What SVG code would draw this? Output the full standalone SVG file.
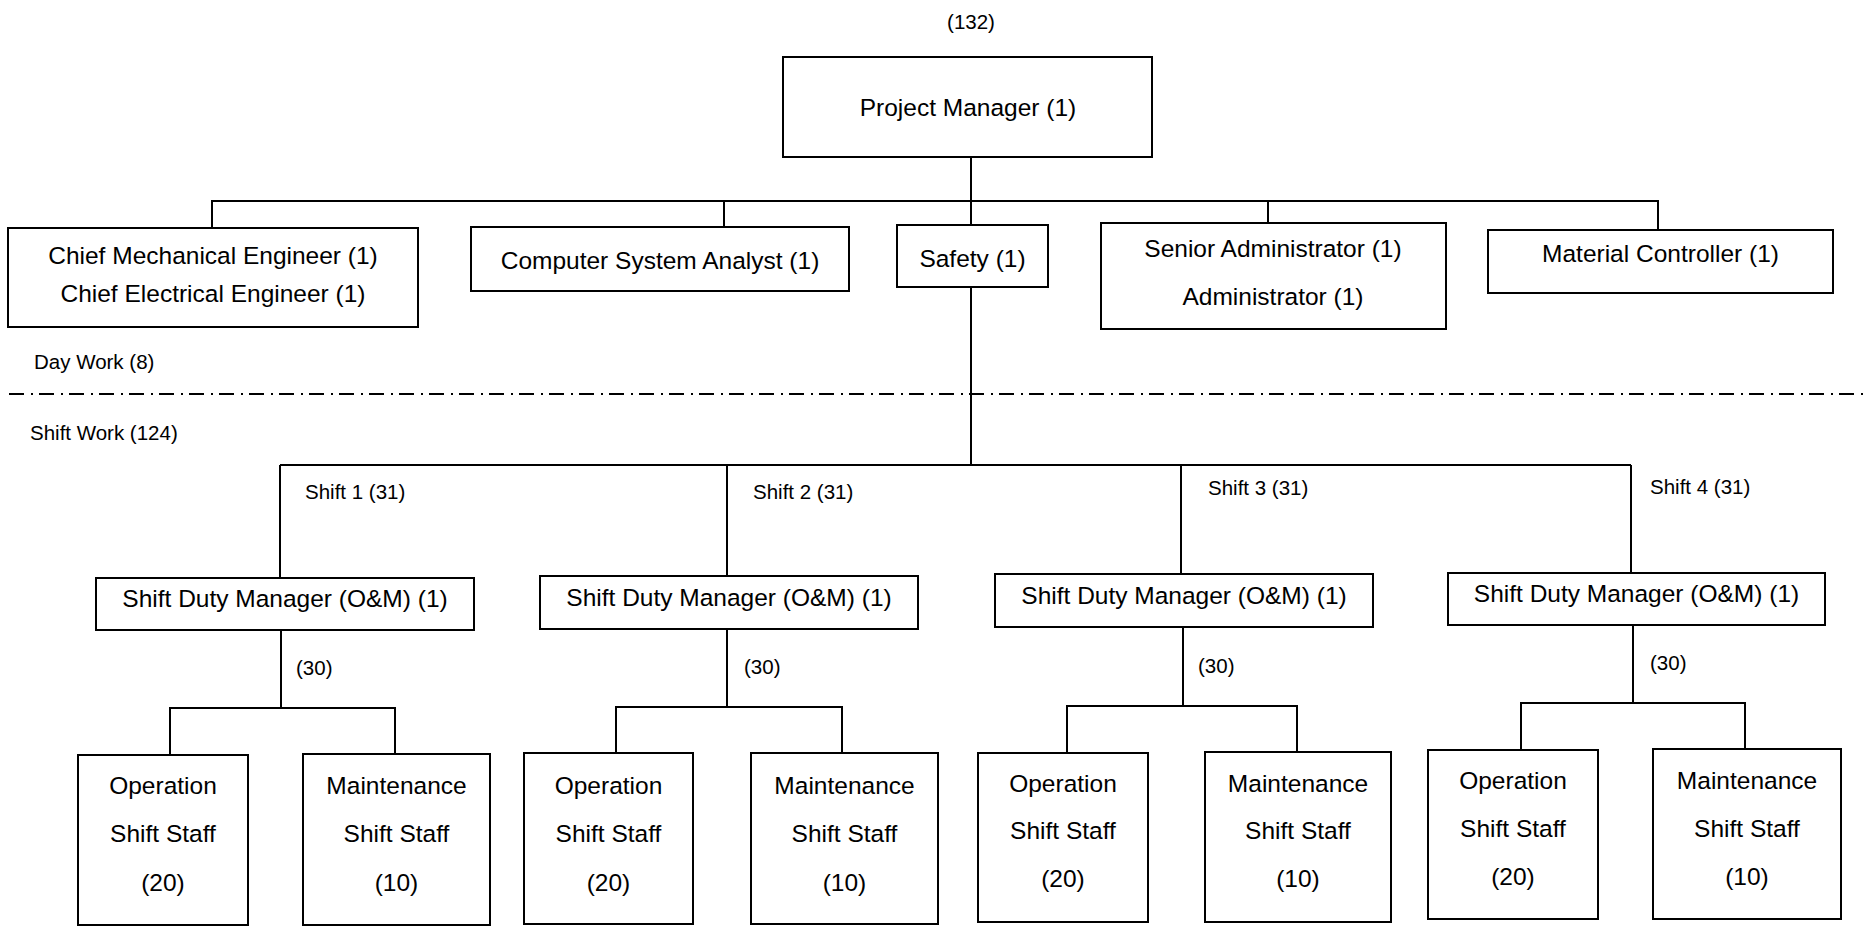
<svg xmlns="http://www.w3.org/2000/svg" width="1866" height="930" viewBox="0 0 1866 930">
<style>
.box{fill:#fff;stroke:#000;stroke-width:2}
.t{font-family:"Liberation Sans",Arial,sans-serif;font-size:24.5px;fill:#000;text-anchor:middle}
.s{font-family:"Liberation Sans",Arial,sans-serif;font-size:20.5px;fill:#000}
.c{fill:none;stroke:#000;stroke-width:2}
.dd{fill:none;stroke:#000;stroke-width:2;stroke-dasharray:15 7 2 6}
</style>
<rect width="1866" height="930" fill="#fff"/>
<g id="connectors">
<path class="c" d="M971 157V225M212 228V201H1658V230M724 201V227M1268 201V223"/>
<path class="c" d="M971 287V465M280 465H1631M280 465V578M727 465V576M1181 465V574M1631 465V573"/>
<path class="c" d="M281 630V708M170 755V708H395V754"/>
<path class="c" d="M727 629V707M616 753V707H842V753"/>
<path class="c" d="M1183 627V706M1067 753V706H1297V752"/>
<path class="c" d="M1633 625V703M1521 750V703H1745V749"/>
<path class="dd" d="M9 394H1866"/>
</g>
<g id="labels">
<text class="s" x="971" y="29" text-anchor="middle">(132)</text>
<text class="s" x="34" y="369">Day Work (8)</text>
<text class="s" x="30" y="440">Shift Work (124)</text>
<text class="s" x="305" y="499">Shift 1 (31)</text>
<text class="s" x="753" y="499">Shift 2 (31)</text>
<text class="s" x="1208" y="495">Shift 3 (31)</text>
<text class="s" x="1650" y="494">Shift 4 (31)</text>
<text class="s" x="296" y="675">(30)</text>
<text class="s" x="744" y="674">(30)</text>
<text class="s" x="1198" y="673">(30)</text>
<text class="s" x="1650" y="670">(30)</text>
</g>
<g id="pm"><rect class="box" x="783" y="57" width="369" height="100"/><text class="t" x="968" y="116">Project Manager (1)</text></g>
<g id="chief"><rect class="box" x="8" y="228" width="410" height="99"/><text class="t" x="213" y="264">Chief Mechanical Engineer (1)</text><text class="t" x="213" y="302">Chief Electrical Engineer (1)</text></g>
<g id="csa"><rect class="box" x="471" y="227" width="378" height="64"/><text class="t" x="660" y="269">Computer System Analyst (1)</text></g>
<g id="safety"><rect class="box" x="897" y="225" width="151" height="62"/><text class="t" x="972.5" y="267">Safety (1)</text></g>
<g id="admin"><rect class="box" x="1101" y="223" width="345" height="106"/><text class="t" x="1273" y="257">Senior Administrator (1)</text><text class="t" x="1273" y="305">Administrator (1)</text></g>
<g id="material"><rect class="box" x="1488" y="230" width="345" height="63"/><text class="t" x="1660.5" y="262">Material Controller (1)</text></g>
<g id="sdm1"><rect class="box" x="96" y="578" width="378" height="52"/><text class="t" x="285" y="607">Shift Duty Manager (O&amp;M) (1)</text></g>
<g id="sdm2"><rect class="box" x="540" y="576" width="378" height="53"/><text class="t" x="729" y="606">Shift Duty Manager (O&amp;M) (1)</text></g>
<g id="sdm3"><rect class="box" x="995" y="574" width="378" height="53"/><text class="t" x="1184" y="604">Shift Duty Manager (O&amp;M) (1)</text></g>
<g id="sdm4"><rect class="box" x="1448" y="573" width="377" height="52"/><text class="t" x="1636.5" y="602">Shift Duty Manager (O&amp;M) (1)</text></g>
<g id="op1"><rect class="box" x="78" y="755" width="170" height="170"/><text class="t" x="163" y="794">Operation</text><text class="t" x="163" y="842">Shift Staff</text><text class="t" x="163" y="891">(20)</text></g>
<g id="mt1"><rect class="box" x="303" y="754" width="187" height="171"/><text class="t" x="396.5" y="794">Maintenance</text><text class="t" x="396.5" y="842">Shift Staff</text><text class="t" x="396.5" y="891">(10)</text></g>
<g id="op2"><rect class="box" x="524" y="753" width="169" height="171"/><text class="t" x="608.5" y="794">Operation</text><text class="t" x="608.5" y="842">Shift Staff</text><text class="t" x="608.5" y="891">(20)</text></g>
<g id="mt2"><rect class="box" x="751" y="753" width="187" height="171"/><text class="t" x="844.5" y="794">Maintenance</text><text class="t" x="844.5" y="842">Shift Staff</text><text class="t" x="844.5" y="891">(10)</text></g>
<g id="op3"><rect class="box" x="978" y="753" width="170" height="169"/><text class="t" x="1063" y="792">Operation</text><text class="t" x="1063" y="839">Shift Staff</text><text class="t" x="1063" y="887">(20)</text></g>
<g id="mt3"><rect class="box" x="1205" y="752" width="186" height="170"/><text class="t" x="1298" y="792">Maintenance</text><text class="t" x="1298" y="839">Shift Staff</text><text class="t" x="1298" y="887">(10)</text></g>
<g id="op4"><rect class="box" x="1428" y="750" width="170" height="169"/><text class="t" x="1513" y="789">Operation</text><text class="t" x="1513" y="837">Shift Staff</text><text class="t" x="1513" y="885">(20)</text></g>
<g id="mt4"><rect class="box" x="1653" y="749" width="188" height="170"/><text class="t" x="1747" y="789">Maintenance</text><text class="t" x="1747" y="837">Shift Staff</text><text class="t" x="1747" y="885">(10)</text></g>
</svg>
